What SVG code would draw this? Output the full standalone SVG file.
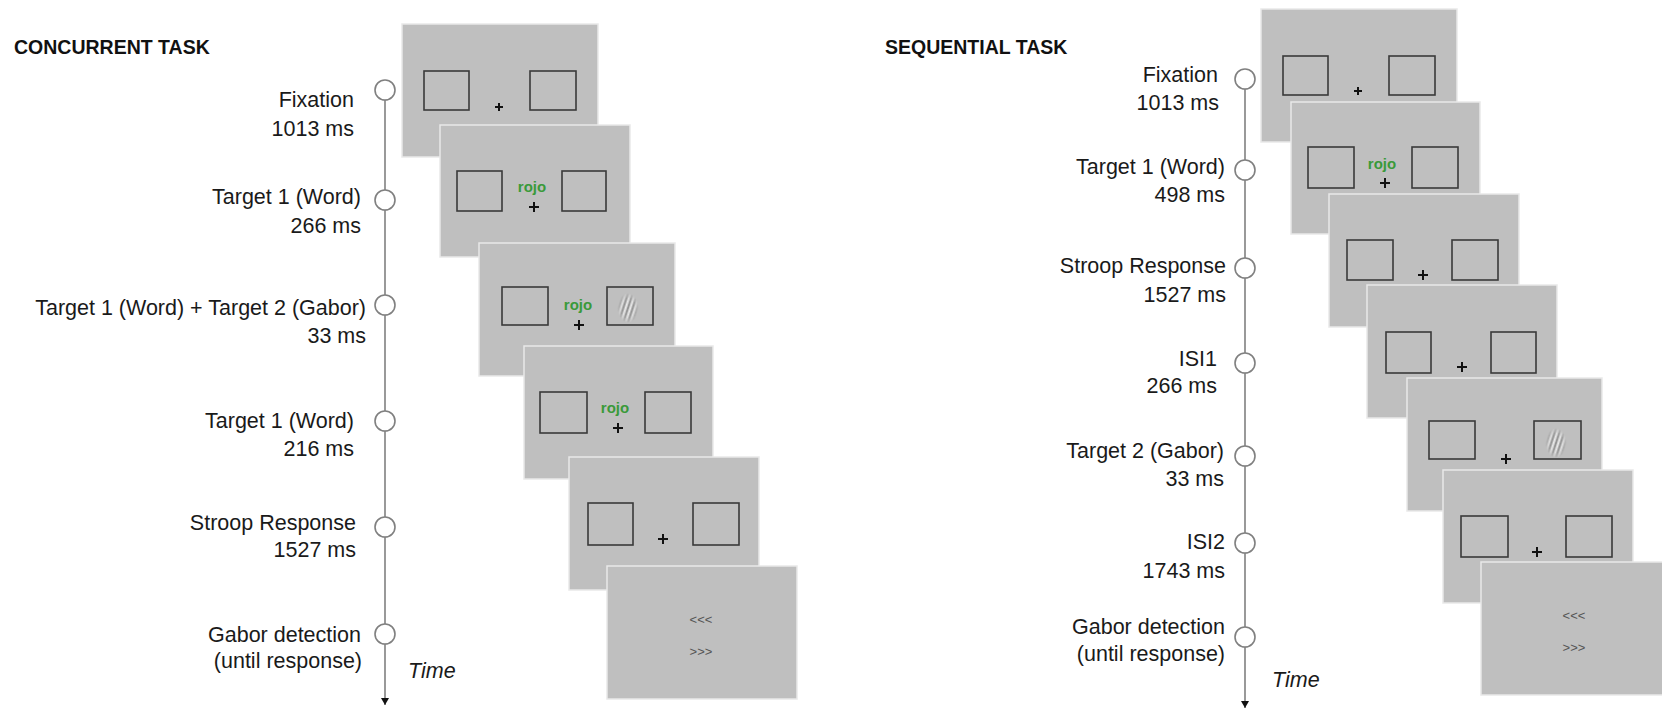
<svg xmlns="http://www.w3.org/2000/svg" width="1662" height="709" viewBox="0 0 1662 709">
  <style>
    .title { font-family: "Liberation Sans", Arial, sans-serif; font-weight: bold; font-size: 19.5px; fill: #111; }
    .lbl { font-family: "Liberation Sans", Arial, sans-serif; font-size: 21.5px; fill: #1a1a1a; text-anchor: end; }
    .time { font-family: "Liberation Sans", Arial, sans-serif; font-style: italic; font-size: 21.5px; fill: #1a1a1a; }
    .axis { stroke: #808080; stroke-width: 1.6; fill: none; }
    .dot { fill: #fff; stroke: #808080; stroke-width: 1.6; }
    .screen { fill: #bfbfbf; stroke: #e9e9e9; stroke-width: 1.5; }
    .box { fill: none; stroke: #3a3a3a; stroke-width: 1.6; }
    .cross { stroke: #111; stroke-width: 2; fill: none; }
    .word { font-family: "Liberation Sans", Arial, sans-serif; font-weight: bold; font-size: 15px; fill: #3a9a3a; text-anchor: middle; }
    .arrows { font-family: "Liberation Sans", Arial, sans-serif; font-size: 13px; fill: #555; text-anchor: middle; }
  </style>
  <defs>
    <marker id="arrow" markerWidth="8" markerHeight="8" refX="7" refY="4" orient="auto" markerUnits="userSpaceOnUse">
      <path d="M0,0 L7,4 L0,8 Z" fill="#111"/>
    </marker>
    <radialGradient id="gaborFade" cx="0.5" cy="0.5" r="0.5">
      <stop offset="0" stop-color="#fff" stop-opacity="1"/>
      <stop offset="0.6" stop-color="#fff" stop-opacity="0.75"/>
      <stop offset="1" stop-color="#fff" stop-opacity="0"/>
    </radialGradient>
    <mask id="gaborMask" maskUnits="userSpaceOnUse" x="-20" y="-20" width="40" height="40" maskContentUnits="userSpaceOnUse">
      <ellipse cx="0" cy="0" rx="11" ry="15" fill="url(#gaborFade)"/>
    </mask>
    <filter id="soft" x="-50%" y="-50%" width="200%" height="200%">
      <feGaussianBlur stdDeviation="0.5"/>
    </filter>
    <!-- Gabor patch: tilted grating under a gaussian window -->
    <g id="gabor">
      <g mask="url(#gaborMask)">
        <g transform="rotate(18)" stroke-width="1.5" filter="url(#soft)">
          <line x1="-9" y1="-18" x2="-9" y2="18" stroke="#8c8c8c"/>
          <line x1="-6.75" y1="-18" x2="-6.75" y2="18" stroke="#ececec"/>
          <line x1="-4.5" y1="-18" x2="-4.5" y2="18" stroke="#888"/>
          <line x1="-2.25" y1="-18" x2="-2.25" y2="18" stroke="#efefef"/>
          <line x1="0" y1="-18" x2="0" y2="18" stroke="#858585"/>
          <line x1="2.25" y1="-18" x2="2.25" y2="18" stroke="#efefef"/>
          <line x1="4.5" y1="-18" x2="4.5" y2="18" stroke="#888"/>
          <line x1="6.75" y1="-18" x2="6.75" y2="18" stroke="#ececec"/>
          <line x1="9" y1="-18" x2="9" y2="18" stroke="#8c8c8c"/>
        </g>
      </g>
    </g>
  </defs>

  <rect width="1662" height="709" fill="#fff"/>

  <!-- ===== Concurrent task ===== -->
  <text id="title-concurrent" class="title" x="14" y="54">CONCURRENT TASK</text>

  <g id="connectors-concurrent">
    <line class="axis" x1="385" y1="90" x2="385" y2="705" marker-end="url(#arrow)"/>
  </g>

  <g id="c-step1"><circle class="dot" cx="385" cy="90" r="10"/>
    <text class="lbl" x="354" y="107">Fixation</text><text class="lbl" x="354" y="136">1013 ms</text></g>
  <g id="c-step2"><circle class="dot" cx="385" cy="200" r="10"/>
    <text class="lbl" x="361" y="204">Target 1 (Word)</text><text class="lbl" x="361" y="233">266 ms</text></g>
  <g id="c-step3"><circle class="dot" cx="385" cy="305" r="10"/>
    <text class="lbl" x="366" y="315">Target 1 (Word) + Target 2 (Gabor)</text><text class="lbl" x="366" y="343">33 ms</text></g>
  <g id="c-step4"><circle class="dot" cx="385" cy="421" r="10"/>
    <text class="lbl" x="354" y="428">Target 1 (Word)</text><text class="lbl" x="354" y="456">216 ms</text></g>
  <g id="c-step5"><circle class="dot" cx="385" cy="527" r="10"/>
    <text class="lbl" x="356" y="530">Stroop Response</text><text class="lbl" x="356" y="557">1527 ms</text></g>
  <g id="c-step6"><circle class="dot" cx="385" cy="634" r="10"/>
    <text class="lbl" x="361" y="642">Gabor detection</text><text class="lbl" x="362" y="668">(until response)</text></g>
  <text id="c-time" class="time" x="408" y="678">Time</text>

  <g id="c-screen1">
    <rect class="screen" x="402" y="24" width="196" height="133"/>
    <rect class="box" x="424" y="71" width="45" height="39"/>
    <rect class="box" x="530" y="71" width="46" height="39"/>
    <path class="cross" d="M495,107 h8 M499,103 v8"/>
  </g>
  <g id="c-screen2">
    <rect class="screen" x="440" y="125" width="190" height="132"/>
    <rect class="box" x="457" y="171" width="45" height="40"/>
    <rect class="box" x="562" y="171" width="44" height="40"/>
    <text class="word" x="532" y="192">rojo</text>
    <path class="cross" d="M529,207 h10 M534,202 v10"/>
  </g>
  <g id="c-screen3">
    <rect class="screen" x="479" y="243" width="196" height="133"/>
    <rect class="box" x="502" y="287" width="46" height="38"/>
    <rect class="box" x="607" y="287" width="46" height="38"/>
    <use href="#gabor" transform="translate(628,308)"/>
    <text class="word" x="578" y="310">rojo</text>
    <path class="cross" d="M574,325 h10 M579,320 v10"/>
  </g>
  <g id="c-screen4">
    <rect class="screen" x="524" y="346" width="189" height="133"/>
    <rect class="box" x="540" y="392" width="47" height="41"/>
    <rect class="box" x="645" y="392" width="46" height="41"/>
    <text class="word" x="615" y="413">rojo</text>
    <path class="cross" d="M613,428 h10 M618,423 v10"/>
  </g>
  <g id="c-screen5">
    <rect class="screen" x="569" y="457" width="190" height="133"/>
    <rect class="box" x="588" y="503" width="45" height="42"/>
    <rect class="box" x="693" y="503" width="46" height="42"/>
    <path class="cross" d="M658,539 h10 M663,534 v10"/>
  </g>
  <g id="c-screen6">
    <rect class="screen" x="607" y="566" width="190" height="133"/>
    <text class="arrows" x="701" y="624">&lt;&lt;&lt;</text>
    <text class="arrows" x="701" y="656">&gt;&gt;&gt;</text>
  </g>

  <!-- ===== Sequential task ===== -->
  <text id="title-sequential" class="title" x="885" y="54">SEQUENTIAL TASK</text>

  <g id="connectors-sequential">
    <line class="axis" x1="1245" y1="79" x2="1245" y2="708" marker-end="url(#arrow)"/>
  </g>

  <g id="s-step1"><circle class="dot" cx="1245" cy="79" r="10"/>
    <text class="lbl" x="1218" y="82">Fixation</text><text class="lbl" x="1219" y="110">1013 ms</text></g>
  <g id="s-step2"><circle class="dot" cx="1245" cy="170" r="10"/>
    <text class="lbl" x="1225" y="174">Target 1 (Word)</text><text class="lbl" x="1225" y="202">498 ms</text></g>
  <g id="s-step3"><circle class="dot" cx="1245" cy="268" r="10"/>
    <text class="lbl" x="1226" y="273">Stroop Response</text><text class="lbl" x="1226" y="302">1527 ms</text></g>
  <g id="s-step4"><circle class="dot" cx="1245" cy="363" r="10"/>
    <text class="lbl" x="1217" y="366">ISI1</text><text class="lbl" x="1217" y="393">266 ms</text></g>
  <g id="s-step5"><circle class="dot" cx="1245" cy="456" r="10"/>
    <text class="lbl" x="1224" y="458">Target 2 (Gabor)</text><text class="lbl" x="1224" y="486">33 ms</text></g>
  <g id="s-step6"><circle class="dot" cx="1245" cy="543" r="10"/>
    <text class="lbl" x="1225" y="549">ISI2</text><text class="lbl" x="1225" y="578">1743 ms</text></g>
  <g id="s-step7"><circle class="dot" cx="1245" cy="637" r="10"/>
    <text class="lbl" x="1225" y="634">Gabor detection</text><text class="lbl" x="1225" y="661">(until response)</text></g>
  <text id="s-time" class="time" x="1272" y="687">Time</text>

  <g id="s-screen1">
    <rect class="screen" x="1261" y="9" width="196" height="133"/>
    <rect class="box" x="1283" y="56" width="45" height="39"/>
    <rect class="box" x="1389" y="56" width="46" height="39"/>
    <path class="cross" d="M1354,91 h8 M1358,87 v8"/>
  </g>
  <g id="s-screen2">
    <rect class="screen" x="1291" y="102" width="189" height="132"/>
    <rect class="box" x="1308" y="147" width="46" height="41"/>
    <rect class="box" x="1412" y="147" width="46" height="41"/>
    <text class="word" x="1382" y="169">rojo</text>
    <path class="cross" d="M1380,183 h10 M1385,178 v10"/>
  </g>
  <g id="s-screen3">
    <rect class="screen" x="1329" y="194" width="190" height="133"/>
    <rect class="box" x="1347" y="240" width="46" height="40"/>
    <rect class="box" x="1452" y="240" width="46" height="40"/>
    <path class="cross" d="M1418,275 h10 M1423,270 v10"/>
  </g>
  <g id="s-screen4">
    <rect class="screen" x="1367" y="285" width="190" height="133"/>
    <rect class="box" x="1386" y="332" width="45" height="41"/>
    <rect class="box" x="1491" y="332" width="45" height="41"/>
    <path class="cross" d="M1457,367 h10 M1462,362 v10"/>
  </g>
  <g id="s-screen5">
    <rect class="screen" x="1407" y="378" width="195" height="133"/>
    <rect class="box" x="1429" y="421" width="46" height="38"/>
    <rect class="box" x="1534" y="421" width="47" height="38"/>
    <use href="#gabor" transform="translate(1556,443)"/>
    <path class="cross" d="M1501,459 h10 M1506,454 v10"/>
  </g>
  <g id="s-screen6">
    <rect class="screen" x="1443" y="470" width="190" height="133"/>
    <rect class="box" x="1461" y="516" width="47" height="41"/>
    <rect class="box" x="1566" y="516" width="46" height="41"/>
    <path class="cross" d="M1532,552 h10 M1537,547 v10"/>
  </g>
  <g id="s-screen7">
    <rect class="screen" x="1481" y="562" width="190" height="133"/>
    <text class="arrows" x="1574" y="620">&lt;&lt;&lt;</text>
    <text class="arrows" x="1574" y="652">&gt;&gt;&gt;</text>
  </g>
</svg>
